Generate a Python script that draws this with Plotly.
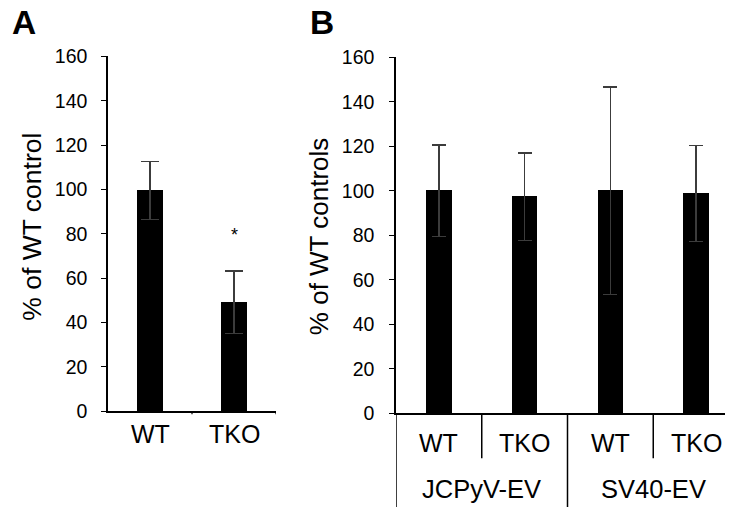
import plotly.graph_objects as go

# ---- data ----
a_categories = ["WT", "TKO"]
a_values = [99.6, 49.1]
a_errors = [13.1, 14.1]
a_sig = ["", "*"]

b_labels = ["WT", "TKO", "WT", "TKO"]
b_groups = ["JCPyV-EV", "JCPyV-EV", "SV40-EV", "SV40-EV"]
b_values = [100.0, 97.3, 100.0, 98.8]
b_errors = [20.6, 19.6, 46.6, 21.5]

y_ticks = [0, 20, 40, 60, 80, 100, 120, 140, 160]

W, H = 733, 510
FONT = "Liberation Sans, Arial, Helvetica, sans-serif"
ERR_COLOR = "#3c3c3c"


def px(x):
    return x / W


def py(y):
    return (H - y) / H


fig = go.Figure()

a_pos = list(range(len(a_values)))
fig.add_trace(go.Bar(
    x=a_pos, y=a_values, width=0.31,
    marker=dict(color="black", line=dict(width=0)),
    error_y=dict(type="data", array=a_errors, visible=True,
                 color=ERR_COLOR, thickness=1.4, width=9),
    xaxis="x", yaxis="y", showlegend=False,
))

b_pos = list(range(len(b_values)))
fig.add_trace(go.Bar(
    x=b_pos, y=b_values, width=0.3,
    marker=dict(color="black", line=dict(width=0)),
    error_y=dict(type="data", array=b_errors, visible=True,
                 color=ERR_COLOR, thickness=1.4, width=7),
    xaxis="x2", yaxis="y2", showlegend=False,
))

axis_common = dict(showgrid=False, zeroline=False, showline=True,
                   linecolor="black", linewidth=1.5)

fig.update_layout(
    width=W, height=H,
    margin=dict(l=0, r=0, t=0, b=0),
    paper_bgcolor="white", plot_bgcolor="white",
    font=dict(family=FONT, color="black"),
    bargap=0,
    xaxis=dict(domain=[px(100), px(268)], anchor="y",
               range=[-0.5, len(a_values) - 0.5],
               tickvals=a_pos, ticks="", showticklabels=False,
               **axis_common),
    yaxis=dict(domain=[py(410), py(39)], anchor="x",
               range=[0, 160], tickvals=y_ticks,
               ticks="outside", ticklen=5, tickcolor="black", tickwidth=1.2,
               tickfont=dict(size=19.5), ticklabelstandoff=10,
               **axis_common),
    xaxis2=dict(domain=[px(388), px(731)], anchor="y2",
                range=[-0.5, len(b_values) - 0.5],
                tickvals=b_pos, ticks="", showticklabels=False,
                **axis_common),
    yaxis2=dict(domain=[py(412), py(40)], anchor="x2",
                range=[0, 160], tickvals=y_ticks,
                ticks="outside", ticklen=5, tickcolor="black", tickwidth=1.2,
                tickfont=dict(size=19.5), ticklabelstandoff=11,
                **axis_common),
)

shapes = []
# panel A boundary ticks
for i in range(len(a_values)):
    shapes.append(dict(type="line", xref="x", yref="paper",
                       x0=i + 0.5, x1=i + 0.5, y0=py(413), y1=py(410),
                       line=dict(color="black", width=1.2)))
groups_order = []
for g in b_groups:
    if g not in groups_order:
        groups_order.append(g)
for i in range(len(b_labels) - 1):
    if b_groups[i] == b_groups[i + 1]:
        shapes.append(dict(type="line", xref="x2", yref="paper",
                           x0=i + 0.5, x1=i + 0.5, y0=py(459), y1=py(412),
                           line=dict(color="black", width=1.5)))
bounds = [-0.5] + [i + 0.5 for i in range(len(b_groups) - 1)
                   if b_groups[i] != b_groups[i + 1]] + [len(b_groups) - 0.5]
for b in bounds:
    shapes.append(dict(type="line", xref="x2", yref="paper",
                       x0=b, x1=b, y0=0, y1=py(412),
                       line=dict(color="black", width=1.5)))
fig.update_layout(shapes=shapes)

ann = []
# category labels
for i, c in enumerate(a_categories):
    ann.append(dict(text=c, xref="x", yref="paper", x=i, y=py(434),
                    showarrow=False, font=dict(size=25),
                    xanchor="center", yanchor="middle"))
for i, c in enumerate(b_labels):
    ann.append(dict(text=c, xref="x2", yref="paper", x=i, y=py(443.5),
                    showarrow=False, font=dict(size=25),
                    xanchor="center", yanchor="middle"))
for g in groups_order:
    idx = [i for i, gg in enumerate(b_groups) if gg == g]
    ann.append(dict(text=g, xref="x2", yref="paper",
                    x=sum(idx) / len(idx), y=py(491.5),
                    showarrow=False, font=dict(size=25.5),
                    xanchor="center", yanchor="middle"))
for i, (v, e, s) in enumerate(zip(a_values, a_errors, a_sig)):
    if s:
        ann.append(dict(text=s, xref="x", yref="y", x=i, y=v + e,
                        yshift=24, showarrow=False, font=dict(size=18),
                        xanchor="center", yanchor="bottom"))
ann.append(dict(text="% of WT control", xref="paper", yref="paper",
                x=px(24), y=py(217), textangle=-90, showarrow=False,
                font=dict(size=26.5), xanchor="center", yanchor="middle"))
ann.append(dict(text="% of WT controls", xref="paper", yref="paper",
                x=px(311), y=py(228), textangle=-90, showarrow=False,
                font=dict(size=26), xanchor="center", yanchor="middle"))
ann.append(dict(text="<b>A</b>", xref="paper", yref="paper",
                x=px(2), y=py(15), yshift=11, showarrow=False,
                font=dict(size=33.5), xanchor="left", yanchor="middle"))
ann.append(dict(text="<b>B</b>", xref="paper", yref="paper",
                x=px(300), y=py(15), yshift=11, showarrow=False,
                font=dict(size=33.5), xanchor="left", yanchor="middle"))
fig.update_layout(annotations=ann)

fig.write_html("out.html")
